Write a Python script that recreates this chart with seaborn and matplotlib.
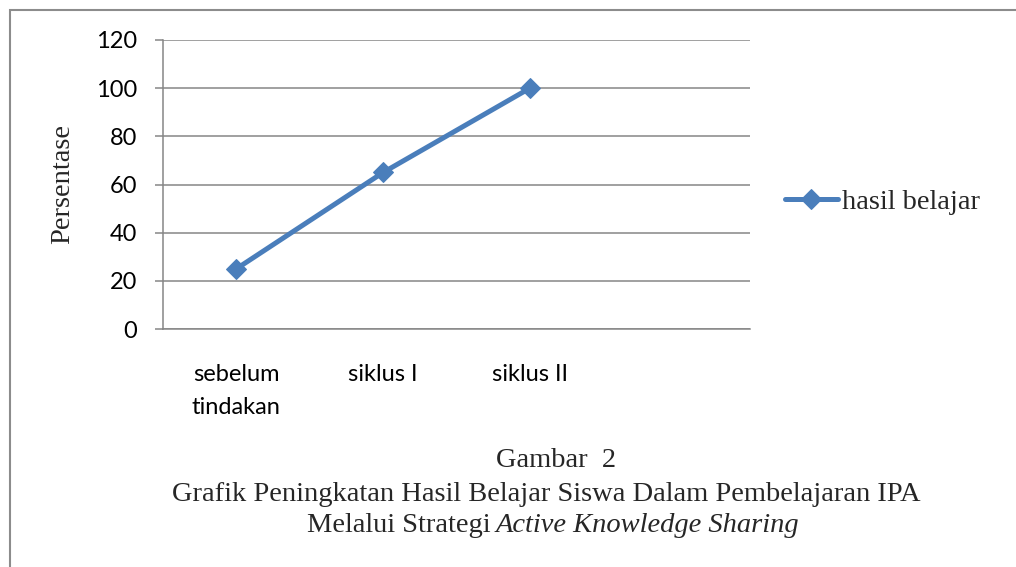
import seaborn as sns
import pandas as pd
import matplotlib.pyplot as plt
from matplotlib.patches import Rectangle

# data
kategori = ['sebelum\ntindakan', 'siklus I', 'siklus II']
hasil_belajar = [25, 65, 100]
nama_seri = 'hasil belajar'
y_ticks = [0, 20, 40, 60, 80, 100, 120]
judul_y = 'Persentase'
caption_1 = 'Gambar  2'
caption_2 = 'Grafik Peningkatan Hasil Belajar Siswa Dalam Pembelajaran IPA'
caption_3a = 'Melalui Strategi'
caption_3b = 'Active Knowledge Sharing'

df = pd.DataFrame({'kategori': kategori, 'nilai': hasil_belajar})

sns.set_style('white')
plt.rcParams['font.family'] = ['Lato', 'DejaVu Sans']

biru = '#4a7ebb'
abu = '#868686'
serif = 'Liberation Serif'
fs_serif = 20.5
W, H = 1016, 567

fig = plt.figure(figsize=(W / 100, H / 100), dpi=100)
ax = fig.add_axes([163 / W, 1 - 329 / H, 587 / W, 289 / H])

sns.lineplot(data=df, x='kategori', y='nilai', marker='D', markersize=10,
             color=biru, lw=3.6, markeredgecolor=biru, label=nama_seri,
             sort=False, ax=ax)

ax.set_xlim(-0.5, 3.5)
ax.set_ylim(0, 120)
ax.set_yticks(y_ticks)
ax.set_xticks(range(len(kategori)))
ax.set_xticklabels(kategori)
ax.set_xticks([-0.5, 0.5, 1.5, 2.5, 3.5], minor=True)
for t in ax.get_xticklabels():
    t.set_linespacing(1.7)

ax.tick_params(axis='x', which='major', length=0, pad=25, labelsize=17, labelcolor='black')
ax.tick_params(axis='x', which='minor', length=5.8, width=1.1, color=abu, direction='out')
ax.tick_params(axis='y', length=5.8, width=1.1, color=abu, direction='out', pad=13,
               labelsize=17, labelcolor='black', left=True)

ax.yaxis.grid(True, color=abu, lw=1.1)
ax.xaxis.grid(False)
ax.set_axisbelow(True)
for s in ['top', 'right']:
    ax.spines[s].set_visible(False)
for s in ['left', 'bottom']:
    ax.spines[s].set_color(abu)
    ax.spines[s].set_linewidth(1.1)
ax.set_xlabel('')
ax.set_ylabel('')

fig.text(63 / W, 1 - 184 / H, judul_y, rotation=90, ha='center', va='center',
         family=serif, fontsize=fs_serif)

ax.legend(loc='center left', bbox_to_anchor=(785 / W, 1 - 202 / H),
          bbox_transform=fig.transFigure, frameon=False, borderpad=0,
          borderaxespad=0, handlelength=1.85, handletextpad=0.15,
          prop={'family': serif, 'size': fs_serif})

# caption
fig.text(556 / W, 1 - 467 / H, caption_1, ha='center', va='baseline', family=serif, fontsize=fs_serif)
fig.text(546 / W, 1 - 501 / H, caption_2, ha='center', va='baseline', family=serif, fontsize=fs_serif)
fig.text(491 / W, 1 - 532 / H, caption_3a, ha='right', va='baseline', family=serif, fontsize=fs_serif)
fig.text(496 / W, 1 - 532 / H, caption_3b, ha='left', va='baseline', family=serif,
         fontsize=fs_serif, style='italic')

# outer frame
fig.add_artist(Rectangle((10 / W, -0.1), 1.1, 1 - 10 / H + 0.1, transform=fig.transFigure,
                         fill=False, ec='#8c8c8c', lw=1.5))

fig.savefig('out.png', dpi=100)
